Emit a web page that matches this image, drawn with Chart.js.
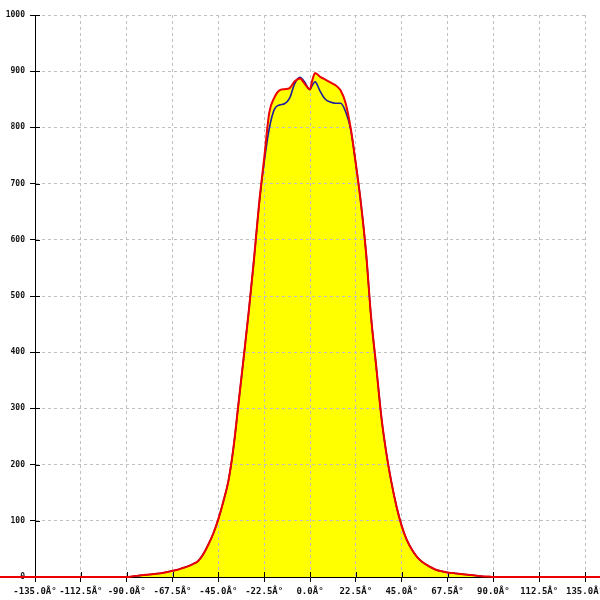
<!DOCTYPE html>
<html>
<head>
<meta charset="utf-8">
<script src="https://cdn.jsdelivr.net/npm/chart.js@4/dist/chart.umd.min.js"></script>
<style>
  html, body { margin: 0; padding: 0; background: #fff; }
  #wrap { width: 600px; height: 600px; }
</style>
</head>
<body>
<div id="wrap"><canvas id="c" width="600" height="600"></canvas></div>
<script>
// Angles (degrees) of the sampled points
const redAngles = [-180, -90, -87.5, -85, -82.5, -80, -77.5, -75, -72.5, -70, -67.5, -65, -62.5, -60, -57.5, -55, -52.5, -50, -47.5, -45, -42.5, -40, -37.5, -35, -32.5, -30, -27.5, -25, -22.5, -20, -17.5, -15, -12.5, -10, -7.5, -5, -2.5, -1, 0, 1, 2.5, 5, 7.5, 10, 12.5, 15, 17.5, 20, 22.5, 25, 27.5, 30, 32.5, 35, 37.5, 40, 42.5, 45, 47.5, 50, 52.5, 55, 57.5, 60, 62.5, 65, 67.5, 70, 72.5, 75, 77.5, 80, 82.5, 85, 87.5, 90, 180];
const redValues = [0, 0, 1, 2, 3, 4, 5, 6, 7, 9, 11, 13, 16, 19, 23, 28, 40, 57, 77, 103, 135, 172, 232, 312, 392, 475, 565, 664, 745, 826, 853, 866, 868, 870, 882, 887, 877, 870, 868, 882, 897, 890, 885, 880, 875, 866, 843, 798, 735, 665, 578, 462, 375, 286, 220, 168, 125, 91, 66, 49, 36, 27, 21, 16, 12, 10, 8, 7, 6, 5, 4, 3, 2, 1, 1, 0, 0];

const blueAngles = [-87.5, -85, -82.5, -80, -77.5, -75, -72.5, -70, -67.5, -65, -62.5, -60, -57.5, -55, -52.5, -50, -47.5, -45, -42.5, -40, -37.5, -35, -32.5, -30, -27.5, -25, -22.5, -20, -17.5, -15, -12.5, -10, -7.5, -5, -2.5, -1, 0, 1, 2.5, 5, 7.5, 10, 12.5, 15, 17.5, 20, 22.5, 25, 27.5, 30, 32.5, 35, 37.5, 40, 42.5, 45, 47.5, 50, 52.5, 55, 57.5, 60, 62.5, 65, 67.5, 70, 72.5, 75, 77.5, 80, 82.5, 85, 86];
const blueValues = [1, 2, 3, 4, 5, 6, 7, 9, 11, 13, 16, 19, 23, 28, 40, 57, 77, 103, 135, 172, 232, 312, 392, 475, 565, 662, 738, 798, 832, 840, 842, 852, 878, 889, 880, 870, 867, 874, 881, 864, 850, 845, 843, 843, 828, 796, 735, 665, 578, 462, 375, 286, 220, 168, 125, 91, 66, 49, 36, 27, 21, 16, 12, 10, 8, 7, 6, 5, 4, 3, 2, 1, 1];

const xTickValues = [-135, -112.5, -90, -67.5, -45, -22.5, 0, 22.5, 45, 67.5, 90, 112.5, 135];
const xTickLabels = ['-135.0Â°', '-112.5Â°', '-90.0Â°', '-67.5Â°', '-45.0Â°', '-22.5Â°', '0.0Â°', '22.5Â°', '45.0Â°', '67.5Â°', '90.0Â°', '112.5Â°', '135.0Â°'];
const yTickValues = [0, 100, 200, 300, 400, 500, 600, 700, 800, 900, 1000];

const toPts = (xs, ys) => xs.map((x, i) => ({x: x, y: ys[i]}));

// draw short tick marks inside the plot area too (crossing the axis line)
const innerTicks = {
  id: 'innerTicks',
  beforeDatasetsDraw(chart) {
    const ctx = chart.ctx;
    const xs = chart.scales.x, ys = chart.scales.y;
    ctx.save();
    ctx.strokeStyle = '#000';
    ctx.lineWidth = 1;
    ctx.beginPath();
    xs.ticks.forEach(t => {
      const px = Math.round(xs.getPixelForValue(t.value)) + 0.5;
      ctx.moveTo(px, xs.top);
      ctx.lineTo(px, xs.top - 5);
    });
    ys.ticks.forEach(t => {
      const py = Math.round(ys.getPixelForValue(t.value)) + 0.5;
      ctx.moveTo(ys.right, py);
      ctx.lineTo(ys.right + 5, py);
    });
    ctx.stroke();
    ctx.restore();
  }
};

new Chart(document.getElementById('c'), {
  type: 'line',
  data: {
    datasets: [
      {
        data: toPts(redAngles, redValues),
        borderColor: '#ee0000',
        backgroundColor: '#ffff00',
        borderWidth: 2,
        pointRadius: 0,
        fill: 'origin',
        clip: false,
        cubicInterpolationMode: 'monotone'
      },
      {
        data: toPts(blueAngles, blueValues),
        borderColor: '#1c1ca0',
        borderWidth: 1.6,
        pointRadius: 0,
        fill: false,
        cubicInterpolationMode: 'monotone'
      }
    ]
  },
  options: {
    responsive: false,
    animation: false,
    layout: { padding: { top: 15, right: 15, left: 0, bottom: 0 } },
    plugins: {
      legend: { display: false },
      tooltip: { enabled: false },
      filler: { drawTime: 'beforeDraw' }
    },
    scales: {
      x: {
        type: 'linear',
        min: -135,
        max: 135,
        afterBuildTicks: s => { s.ticks = xTickValues.map(v => ({ value: v })); },
        afterFit: s => { s.height = 23; s.paddingLeft = 0; s.paddingRight = 0; },
        ticks: {
          autoSkip: false,
          maxRotation: 0,
          minRotation: 0,
          padding: 4,
          color: '#111',
          font: { family: 'DejaVu Sans Mono', size: 9, weight: 'bold' },
          callback: (v, i) => xTickLabels[i]
        },
        grid: { color: '#c0c0c0', lineWidth: 1, tickLength: 5, tickColor: '#000', tickBorderDash: [] },
        border: { color: '#000', width: 1, dash: [3, 3] }
      },
      y: {
        min: 0,
        max: 1000,
        afterBuildTicks: s => { s.ticks = yTickValues.map(v => ({ value: v })); },
        afterFit: s => { s.width = 35; s.paddingTop = 0; s.paddingBottom = 0; },
        ticks: {
          padding: 5,
          color: '#111',
          font: { family: 'DejaVu Sans Mono', size: 8, weight: 'bold' },
          callback: v => String(v)
        },
        grid: { color: '#c0c0c0', lineWidth: 1, tickLength: 5, tickColor: '#000', tickBorderDash: [] },
        border: { color: '#000', width: 1, dash: [3, 3] }
      }
    }
  },
  plugins: [innerTicks]
});
</script>
</body>
</html>
